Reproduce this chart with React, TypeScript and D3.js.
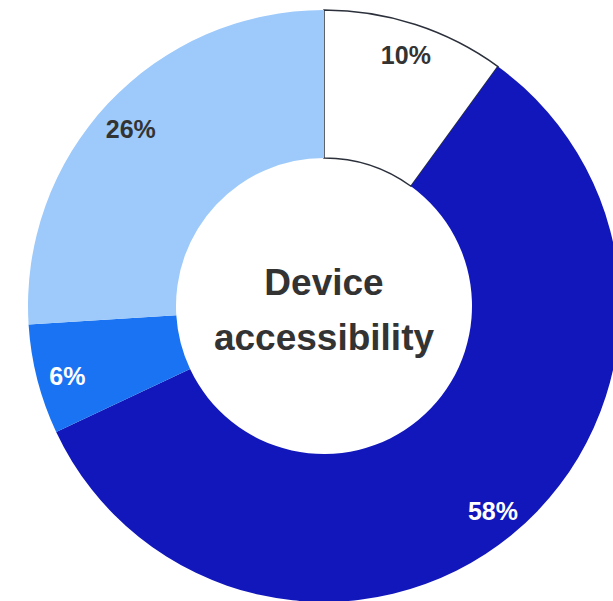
import React from "react";
import * as d3 from "d3";

const categories = ["A", "B", "C", "D"];
const values = [10, 58, 6, 26];
const labels = ["10%", "58%", "6%", "26%"];
const colors = ["#ffffff", "#1117BA", "#1A73F2", "#9DCAFA"];
const labelColors = ["#333333", "#ffffff", "#ffffff", "#333333"];
const centerLines = ["Device", "accessibility"];

const W = 613;
const H = 601;
const cx = 324;
const cy = 306;
const outerR = 296;
const innerR = 148;
const labelR = 265;

export default function App() {
  React.useEffect(() => {
    document.body.style.margin = "0";
  }, []);
  const pie = d3
    .pie<number>()
    .sort(null)
    .value((d) => d);
  const arcs = pie(values);
  const arc = d3.arc<d3.PieArcDatum<number>>().innerRadius(innerR).outerRadius(outerR);
  const labelArc = d3.arc<d3.PieArcDatum<number>>().innerRadius(labelR).outerRadius(labelR);
  return (
    <svg width={W} height={H} style={{ display: "block", position: "absolute", left: 0, top: 0 }}>
      <rect width={W} height={H} fill="#ffffff" />
      <g transform={`translate(${cx},${cy})`}>
        {arcs.map((a, i) => (
          <path
            key={categories[i]}
            d={arc(a) || ""}
            fill={colors[i]}
            stroke={i === 0 ? "#2b303b" : "none"}
            strokeWidth={i === 0 ? 1.5 : 0}
          />
        ))}
        {arcs.map((a, i) => {
          const [x, y] = labelArc.centroid(a);
          const dy = x < 0 ? 4 : 1;
          return (
            <text
              key={"l" + i}
              x={x}
              y={y + dy}
              textAnchor="middle"
              dominantBaseline="central"
              fill={labelColors[i]}
              fontFamily="Liberation Sans, Arial, sans-serif"
              fontWeight="bold"
              fontSize={25}
            >
              {labels[i]}
            </text>
          );
        })}
        {centerLines.map((t, i) => (
          <text
            key={t}
            x={0}
            y={-11 + i * 55}
            textAnchor="middle"
            fill="#333333"
            fontFamily="Liberation Sans, Arial, sans-serif"
            fontWeight="bold"
            fontSize={37}
          >
            {t}
          </text>
        ))}
      </g>
    </svg>
  );
}
